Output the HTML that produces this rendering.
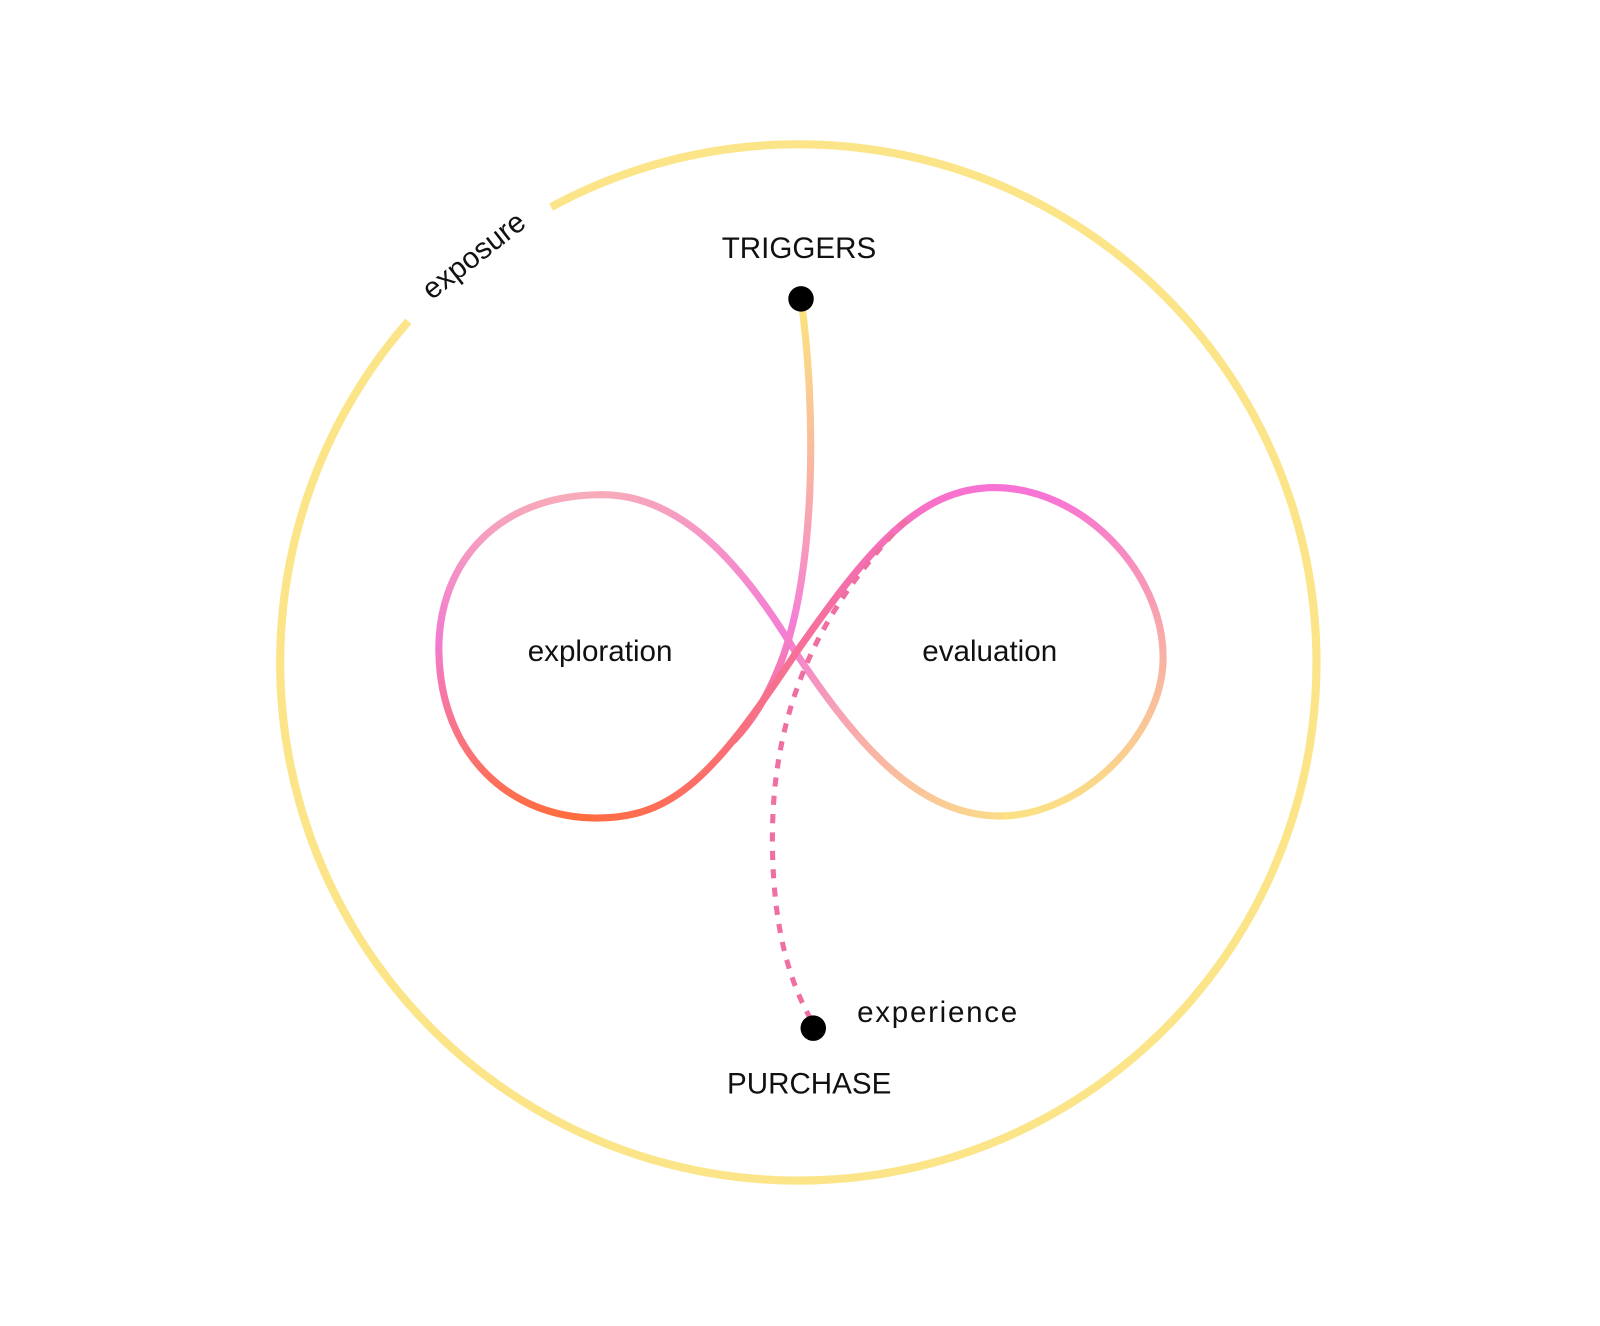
<!DOCTYPE html>
<html><head><meta charset="utf-8"><style>
html,body{margin:0;padding:0;background:#fff;}
svg{display:block;}
text{font-family:"Liberation Sans",sans-serif;fill:#111;}
</style></head><body>
<svg width="1600" height="1326" viewBox="0 0 1568 1300" xmlns="http://www.w3.org/2000/svg">
<defs>
<linearGradient id="gl" gradientUnits="userSpaceOnUse" x1="0" y1="485" x2="0" y2="802">
<stop offset="0" stop-color="#f7abb9"/><stop offset="0.45" stop-color="#f27bd0"/><stop offset="1" stop-color="#ff6d3f"/></linearGradient>
<linearGradient id="g1" gradientUnits="userSpaceOnUse" x1="585" y1="802" x2="975" y2="478">
<stop offset="0" stop-color="#ff6d45"/><stop offset="0.4" stop-color="#f6708a"/><stop offset="0.7" stop-color="#f56fb0"/><stop offset="1" stop-color="#f872d6"/></linearGradient>
<linearGradient id="g2a" gradientUnits="userSpaceOnUse" x1="0" y1="478" x2="0" y2="800">
<stop offset="0" stop-color="#f872d6"/><stop offset="0.5" stop-color="#f8b0a4"/><stop offset="1" stop-color="#fbe184"/></linearGradient>
<linearGradient id="g2b" gradientUnits="userSpaceOnUse" x1="980" y1="800" x2="590" y2="485">
<stop offset="0" stop-color="#fbdb8a"/><stop offset="0.3" stop-color="#f8b0a8"/><stop offset="0.55" stop-color="#f47ed4"/><stop offset="1" stop-color="#f7abb9"/></linearGradient>
<linearGradient id="gt" gradientUnits="userSpaceOnUse" x1="0" y1="300" x2="0" y2="740">
<stop offset="0" stop-color="#fbe47e"/><stop offset="0.35" stop-color="#fab8a0"/><stop offset="0.7" stop-color="#f57fd6"/><stop offset="1" stop-color="#f4707a"/></linearGradient>
</defs>
<path d="M540 203 A508 508 0 1 1 400 315" fill="none" stroke="#fbe588" stroke-width="8"/>
<text x="0" y="0" font-size="29" transform="translate(470 258) rotate(-38)" text-anchor="middle">exposure</text>
<path d="M590 485 C480 485,428 560,430 640 C432 740,500 802,585 802" fill="none" stroke="url(#gl)" stroke-width="7" stroke-linecap="round"/>
<path d="M975 478 C1060 478,1140 560,1140 645 C1140 720,1060 800,980 800" fill="none" stroke="url(#g2a)" stroke-width="7" stroke-linecap="round"/>
<path d="M980 800 C900 800,840 730,780 640 C720 540,660 485,590 485" fill="none" stroke="url(#g2b)" stroke-width="7" stroke-linecap="round"/>
<path d="M785 293 C800 400,800 560,765 650 C752 683,738 706,719 726" fill="none" stroke="url(#gt)" stroke-width="7" stroke-linecap="round"/>
<path d="M585 802 C660 802,700 760,780 640 C850 540,900 478,975 478" fill="none" stroke="url(#g1)" stroke-width="7" stroke-linecap="round"/>
<path d="M888 510 C800 600,755 700,757 830 C758 920,778 970,795 1000" fill="none" stroke="#ef6fa2" stroke-width="5" stroke-dasharray="9 9"/>
<circle cx="785" cy="293" r="12.5" fill="#000"/>
<circle cx="797" cy="1008" r="12.5" fill="#000"/>
<text x="783" y="253" font-size="29" text-anchor="middle">TRIGGERS</text>
<text x="588" y="648" font-size="29" text-anchor="middle">exploration</text>
<text x="970" y="648" font-size="29" text-anchor="middle">evaluation</text>
<text x="840" y="1002" font-size="29" textLength="157">experience</text>
<text x="793" y="1072" font-size="29" text-anchor="middle">PURCHASE</text>
</svg>
</body></html>
